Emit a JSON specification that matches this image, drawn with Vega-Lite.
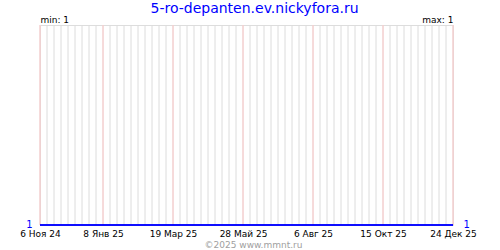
{
  "$schema": "https://vega.github.io/schema/vega-lite/v6.json",
  "width": 413,
  "height": 200,
  "autosize": {"type": "none"},
  "padding": {"left": 40, "top": 25, "right": 47, "bottom": 25},
  "background": "white",
  "config": {
    "font": "DejaVu Sans",
    "view": {"stroke": "#dddddd", "strokeWidth": 1}
  },
  "title": {
    "text": "5-ro-depanten.ev.nickyfora.ru",
    "font": "DejaVu Sans",
    "fontSize": 14,
    "fontWeight": "normal",
    "color": "#0000ff",
    "anchor": "middle",
    "dx": 8,
    "dy": 5
  },
  "datasets": {
    "weeks": [
      {"date": "2024-11-06"}, {"date": "2024-11-13"}, {"date": "2024-11-20"}, {"date": "2024-11-27"},
      {"date": "2024-12-04"}, {"date": "2024-12-11"}, {"date": "2024-12-18"}, {"date": "2024-12-25"},
      {"date": "2025-01-01"}, {"date": "2025-01-08"}, {"date": "2025-01-15"}, {"date": "2025-01-22"}, {"date": "2025-01-29"},
      {"date": "2025-02-05"}, {"date": "2025-02-12"}, {"date": "2025-02-19"}, {"date": "2025-02-26"},
      {"date": "2025-03-05"}, {"date": "2025-03-12"}, {"date": "2025-03-19"}, {"date": "2025-03-26"},
      {"date": "2025-04-02"}, {"date": "2025-04-09"}, {"date": "2025-04-16"}, {"date": "2025-04-23"}, {"date": "2025-04-30"},
      {"date": "2025-05-07"}, {"date": "2025-05-14"}, {"date": "2025-05-21"}, {"date": "2025-05-28"},
      {"date": "2025-06-04"}, {"date": "2025-06-11"}, {"date": "2025-06-18"}, {"date": "2025-06-25"},
      {"date": "2025-07-02"}, {"date": "2025-07-09"}, {"date": "2025-07-16"}, {"date": "2025-07-23"}, {"date": "2025-07-30"},
      {"date": "2025-08-06"}, {"date": "2025-08-13"}, {"date": "2025-08-20"}, {"date": "2025-08-27"},
      {"date": "2025-09-03"}, {"date": "2025-09-10"}, {"date": "2025-09-17"}, {"date": "2025-09-24"},
      {"date": "2025-10-01"}, {"date": "2025-10-08"}, {"date": "2025-10-15"}, {"date": "2025-10-22"}, {"date": "2025-10-29"},
      {"date": "2025-11-05"}, {"date": "2025-11-12"}, {"date": "2025-11-19"}, {"date": "2025-11-26"},
      {"date": "2025-12-03"}, {"date": "2025-12-10"}, {"date": "2025-12-17"}, {"date": "2025-12-24"}
    ],
    "major": [
      {"date": "2024-11-06"}, {"date": "2025-01-08"}, {"date": "2025-03-19"}, {"date": "2025-05-28"},
      {"date": "2025-08-06"}, {"date": "2025-10-15"}, {"date": "2025-12-24"}
    ],
    "series": [
      {"date": "2024-11-06", "value": 1},
      {"date": "2025-12-24", "value": 1}
    ]
  },
  "encoding": {
    "x": {
      "field": "date", "type": "temporal",
      "scale": {"type": "utc", "nice": false, "domain": [{"year": 2024, "month": 11, "date": 6, "utc": true}, {"year": 2025, "month": 12, "date": 24, "utc": true}]},
      "axis": {
        "values": [
          {"year": 2024, "month": 11, "date": 6, "utc": true},
          {"year": 2025, "month": 1, "date": 8, "utc": true},
          {"year": 2025, "month": 3, "date": 19, "utc": true},
          {"year": 2025, "month": 5, "date": 28, "utc": true},
          {"year": 2025, "month": 8, "date": 6, "utc": true},
          {"year": 2025, "month": 10, "date": 15, "utc": true},
          {"year": 2025, "month": 12, "date": 24, "utc": true}
        ],
        "labelExpr": "utcdate(datum.value) + ' ' + ['Янв','Фев','Мар','Апр','Май','Июн','Июл','Авг','Сен','Окт','Ноя','Дек'][utcmonth(datum.value)] + ' ' + utcFormat(datum.value, '%y')",
        "labelFont": "DejaVu Sans",
        "labelFontSize": 9,
        "labelColor": "#000000",
        "labelPadding": 4,
        "labelOverlap": false,
        "labelFlush": false,
        "ticks": false,
        "domain": false,
        "grid": false,
        "title": "©2025 www.mmnt.ru",
        "titleFont": "DejaVu Sans",
        "titleFontSize": 9,
        "titleFontWeight": "normal",
        "titleColor": "#a0a0a0",
        "titleX": 213,
        "titleY": 22,
        "titleAlign": "center",
        "titleBaseline": "alphabetic"
      }
    }
  },
  "layer": [
    {
      "data": {"name": "weeks"},
      "mark": {"type": "rule", "color": "#dcdcdc", "strokeWidth": 1}
    },
    {
      "data": {"name": "major"},
      "mark": {"type": "rule", "color": "#ffc8c8", "strokeWidth": 1}
    },
    {
      "data": {"name": "series"},
      "mark": {"type": "line", "color": "#0000ff", "strokeWidth": 1.5},
      "encoding": {
        "y": {
          "field": "value", "type": "quantitative",
          "scale": {"domain": [1, 2], "nice": false, "zero": false},
          "axis": {
            "values": [1],
            "labelColor": "#0000ff",
            "labelFont": "DejaVu Sans",
            "labelFontSize": 10,
            "labelPadding": 8,
            "labelBaseline": "alphabetic",
            "labelOffset": 2,
            "ticks": false,
            "domain": false,
            "grid": false,
            "title": "min: 1",
            "titleFont": "DejaVu Sans",
            "titleFontSize": 9,
            "titleFontWeight": "normal",
            "titleColor": "#000000",
            "titleAngle": 0,
            "titleX": 0,
            "titleY": -3,
            "titleAlign": "left",
            "titleBaseline": "alphabetic"
          }
        }
      }
    },
    {
      "data": {"name": "series"},
      "mark": {"type": "line", "color": "#0000ff", "strokeWidth": 1.5},
      "encoding": {
        "y": {
          "field": "value", "type": "quantitative",
          "scale": {"domain": [1, 2], "nice": false, "zero": false},
          "axis": {
            "orient": "right",
            "values": [1],
            "labelColor": "#0000ff",
            "labelFont": "DejaVu Sans",
            "labelFontSize": 10,
            "labelPadding": 10,
            "labelBaseline": "alphabetic",
            "labelOffset": 2,
            "ticks": false,
            "domain": false,
            "grid": false,
            "title": "max: 1",
            "titleFont": "DejaVu Sans",
            "titleFontSize": 9,
            "titleFontWeight": "normal",
            "titleColor": "#000000",
            "titleAngle": 0,
            "titleX": 0,
            "titleY": -3,
            "titleAlign": "right",
            "titleBaseline": "alphabetic"
          }
        }
      }
    }
  ],
  "resolve": {"axis": {"y": "independent"}}
}
